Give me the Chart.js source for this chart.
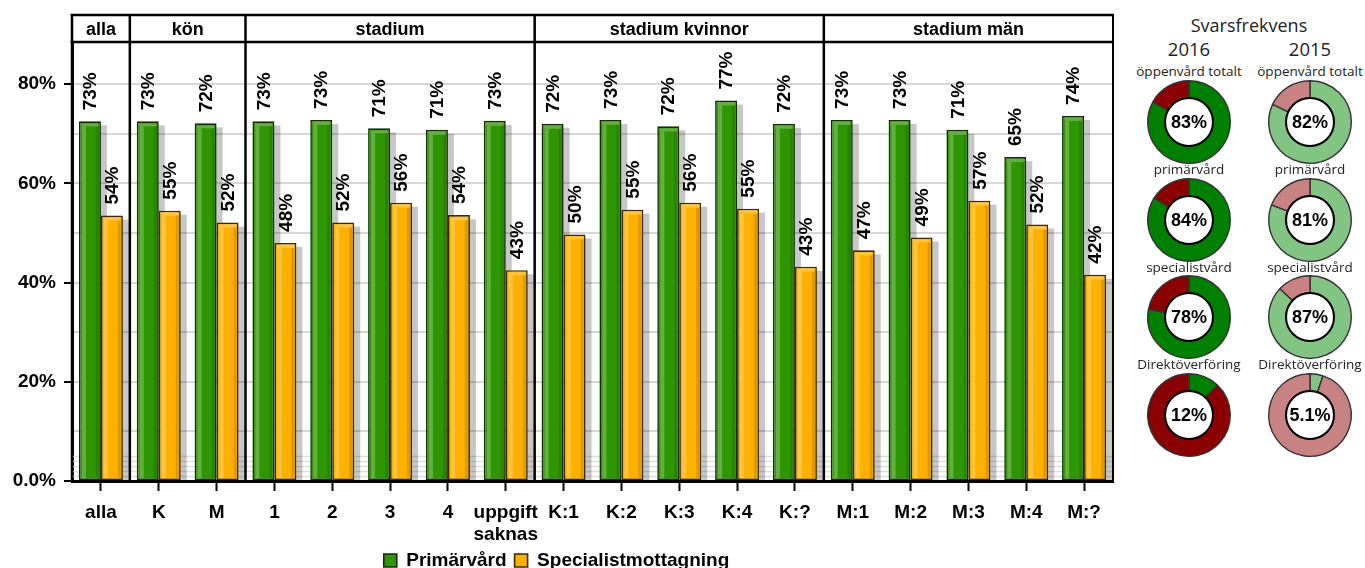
<!DOCTYPE html>
<html>
<head>
<meta charset="utf-8">
<script src="https://cdn.jsdelivr.net/npm/chart.js@4"></script>
<style>
  html, body { margin: 0; padding: 0; background: #fff; overflow: hidden; width: 1365px; height: 568px; }
  #main { position: absolute; left: 0; top: 0; }
  .t { position: absolute; font-family: "Open Sans", "Noto Sans", sans-serif; color: #222;
       white-space: nowrap; transform: translate(-50%, -50%); line-height: 1; }
  .d { position: absolute; }
</style>
</head>
<body>
<canvas id="main" width="1120" height="580"></canvas>
<script>
// ---- data ----
const categories = ['alla', 'K', 'M', '1', '2', '3', '4', ['uppgift', 'saknas'],
  'K:1', 'K:2', 'K:3', 'K:4', 'K:?', 'M:1', 'M:2', 'M:3', 'M:4', 'M:?'];
const panelNames = ['alla', 'kön', 'stadium', 'stadium kvinnor', 'stadium män'];
const panelSizes = [1, 2, 5, 5, 5];
const primarvard = [72.5, 72.5, 72.1, 72.5, 72.8, 71.1, 70.8, 72.6,
  72.0, 72.8, 71.5, 76.7, 72.0, 72.8, 72.8, 70.8, 65.3, 73.6];
const specialist = [53.5, 54.5, 52.1, 48.0, 52.1, 56.1, 53.6, 42.5,
  49.7, 54.7, 56.1, 54.9, 43.2, 46.5, 49.1, 56.5, 51.7, 41.6];
const yTicks = [0, 20, 40, 60, 80];
const minorLines = [1, 2, 3, 4, 5];
const donutNames = ['öppenvård totalt', 'primärvård', 'specialistvård', 'Direktöverföring'];
const years = ['2016', '2015'];
const rate2016 = [83, 84, 78, 12];
const rate2015 = [82, 81, 87, 5.1];

const FONT = '"Liberation Sans", Arial, sans-serif';

// drop shadows, minor grid lines, gloss stripes and rotated value labels
const barDecor = {
  id: 'barDecor',
  beforeDatasetsDraw(chart) {
    const { ctx, chartArea: a, scales: { y } } = chart;
    ctx.save();
    ctx.strokeStyle = 'rgb(222,222,222)';
    ctx.lineWidth = 1.5;
    minorLines.forEach(v => {
      const py = Math.round(y.getPixelForValue(v)) + 0.5;
      ctx.beginPath(); ctx.moveTo(a.left, py); ctx.lineTo(a.right, py); ctx.stroke();
    });
    ctx.fillStyle = 'rgba(0,0,0,0.22)';
    chart.data.datasets.forEach((ds, i) => {
      chart.getDatasetMeta(i).data.forEach(el => {
        const { x, y: top, base, width } = el.getProps(['x', 'y', 'base', 'width'], true);
        ctx.fillRect(x - width / 2 + 6, top + 4, width, base - top - 4);
      });
    });
    ctx.restore();
  },
  afterDatasetsDraw(chart) {
    const ctx = chart.ctx;
    ctx.save();
    chart.data.datasets.forEach((ds, i) => {
      chart.getDatasetMeta(i).data.forEach((el, j) => {
        const { x, y: top, base, width } = el.getProps(['x', 'y', 'base', 'width'], true);
        const l = x - width / 2;
        ctx.fillStyle = 'rgba(255,255,255,0.25)';
        ctx.fillRect(l + 3, top + 5, 4, base - top - 7);
        ctx.fillRect(l + 2.5, top + 2, width - 5, 3);
        ctx.fillStyle = 'rgba(0,0,0,0.12)';
        ctx.fillRect(l + width - 5, top + 5, 3, base - top - 7);

        ctx.save();
        ctx.translate(x, top - 11);
        ctx.rotate(-Math.PI / 2);
        ctx.font = 'bold 19px ' + FONT;
        ctx.fillStyle = '#000';
        ctx.textAlign = 'left';
        ctx.textBaseline = 'middle';
        ctx.fillText(Math.round(ds.data[j]) + '%', 0, 1);
        ctx.restore();
      });
    });
    ctx.restore();
  }
};

// panel frames with header strip
const panelFrame = {
  id: 'panelFrame',
  afterDraw(chart) {
    const { ctx, chartArea: a, scales: { x } } = chart;
    const top = 15;
    const bounds = [a.left];
    let idx = 0;
    panelSizes.forEach(n => {
      idx += n;
      bounds.push(idx < categories.length
        ? (x.getPixelForTick(idx - 1) + x.getPixelForTick(idx)) / 2
        : a.right);
    });
    ctx.save();
    ctx.strokeStyle = '#000';
    ctx.lineWidth = 2.5;
    ctx.beginPath();
    ctx.moveTo(a.left - 1.5, top); ctx.lineTo(a.right + 1, top);
    ctx.moveTo(a.left - 1.5, a.top); ctx.lineTo(a.right + 1, a.top);
    for (let k = 0; k < bounds.length - 1; k++) {
      ctx.moveTo(bounds[k], top); ctx.lineTo(bounds[k], a.bottom);
    }
    ctx.stroke();
    ctx.lineWidth = 2;
    ctx.beginPath();
    ctx.moveTo(a.right, top); ctx.lineTo(a.right, a.bottom);
    ctx.stroke();
    ctx.font = 'bold 18px ' + FONT;
    ctx.textAlign = 'center';
    ctx.textBaseline = 'middle';
    ctx.fillStyle = '#000';
    panelNames.forEach((n, k) => ctx.fillText(n, (bounds[k] + bounds[k + 1]) / 2, (top + a.top) / 2 + 1.5));
    ctx.restore();
  }
};

new Chart(document.getElementById('main'), {
  type: 'bar',
  data: {
    labels: categories,
    datasets: [
      { label: 'Primärvård', data: primarvard, backgroundColor: '#2e9600', borderColor: '#152a05',
        borderWidth: 1.6, borderSkipped: false, categoryPercentage: 0.76, barPercentage: 1.0 },
      { label: 'Specialistmottagning', data: specialist, backgroundColor: '#ffb000', borderColor: '#3a2a05',
        borderWidth: 1.6, borderSkipped: false, categoryPercentage: 0.76, barPercentage: 1.0 }
    ]
  },
  options: {
    responsive: false,
    animation: false,
    events: [],
    layout: { padding: { top: 42, right: 7, left: 0, bottom: 0 } },
    scales: {
      x: {
        offset: true,
        grid: { offset: false, drawOnChartArea: false, drawTicks: true, tickLength: 10, tickWidth: 2, tickColor: '#000' },
        border: { color: '#000', width: 3 },
        ticks: { font: { family: FONT, size: 19, weight: 'bold' }, color: '#000', padding: 10,
                 maxRotation: 0, autoSkip: false },
        afterFit(s) { s.height = 62; }
      },
      y: {
        min: 0, max: 88.5,
        ticks: {
          stepSize: 10, includeBounds: false,
          callback: v => yTicks.includes(v) ? (v === 0 ? '0.0%' : v + '%') : '',
          font: { family: FONT, size: 19, weight: 'bold' }, color: '#000', padding: 8
        },
        grid: { color: 'rgb(215,215,215)', lineWidth: 2, tickLength: 8, tickWidth: 2,
                tickColor: c => (c.tick && yTicks.includes(c.tick.value)) ? '#000' : 'rgba(0,0,0,0)' },
        border: { color: '#000', width: 3 },
        afterFit(s) { s.width = 72; }
      }
    },
    plugins: {
      legend: {
        position: 'bottom',
        labels: { boxWidth: 13, boxHeight: 13, padding: 8, color: '#000',
                  font: { family: FONT, size: 19, weight: 'bold' } }
      },
      tooltip: { enabled: false }
    }
  },
  plugins: [barDecor, panelFrame]
});

// ---- response-rate rings ----
const colX = [1189, 1310];
const rowY = [122, 219.5, 317, 415];
const nameY = [72, 170, 268, 365];
const palettes = [{ g: '#008000', r: '#8b0000' }, { g: '#82c482', r: '#c98282' }];

function addText(txt, x, y, size, weight) {
  const d = document.createElement('div');
  d.className = 't';
  d.textContent = txt;
  d.style.left = x + 'px';
  d.style.top = y + 'px';
  d.style.fontSize = size + 'px';
  if (weight) d.style.fontWeight = weight;
  document.body.appendChild(d);
}

const ringCenter = {
  id: 'ringCenter',
  afterDatasetsDraw(chart) {
    const arc = chart.getDatasetMeta(0).data[0];
    const { x, y, innerRadius } = arc.getProps(['x', 'y', 'innerRadius'], true);
    const ctx = chart.ctx;
    ctx.save();
    ctx.beginPath();
    ctx.arc(x, y, innerRadius, 0, Math.PI * 2);
    ctx.fillStyle = '#fff';
    ctx.fill();
    ctx.lineWidth = 2;
    ctx.strokeStyle = '#000';
    ctx.stroke();
    const v = chart.data.datasets[0].data[0];
    ctx.font = 'bold 18px ' + FONT;
    ctx.fillStyle = '#000';
    ctx.textAlign = 'center';
    ctx.textBaseline = 'middle';
    ctx.fillText(v + '%', x, y + 1);
    ctx.restore();
  }
};

function ring(cx, cy, value, pal) {
  const c = document.createElement('canvas');
  c.width = 92; c.height = 92;
  c.className = 'd';
  c.style.left = (cx - 46) + 'px';
  c.style.top = (cy - 46) + 'px';
  document.body.appendChild(c);
  new Chart(c, {
    type: 'doughnut',
    data: { labels: ['svar', 'bortfall'],
            datasets: [{ data: [value, 100 - value], backgroundColor: [pal.g, pal.r],
                         borderColor: '#333', borderWidth: 1.4 }] },
    options: {
      responsive: false, animation: false, events: [], cutout: '58%',
      layout: { padding: 4 },
      plugins: { legend: { display: false }, tooltip: { enabled: false } }
    },
    plugins: [ringCenter]
  });
}

addText('Svarsfrekvens', 1249, 25, 18);
years.forEach((yr, k) => addText(yr, colX[k], 49, 18.5));
[rate2016, rate2015].forEach((rates, k) => {
  rates.forEach((v, r) => {
    addText(donutNames[r], colX[k], nameY[r], 13.5);
    ring(colX[k], rowY[r], v, palettes[k]);
  });
});
</script>
</body>
</html>
